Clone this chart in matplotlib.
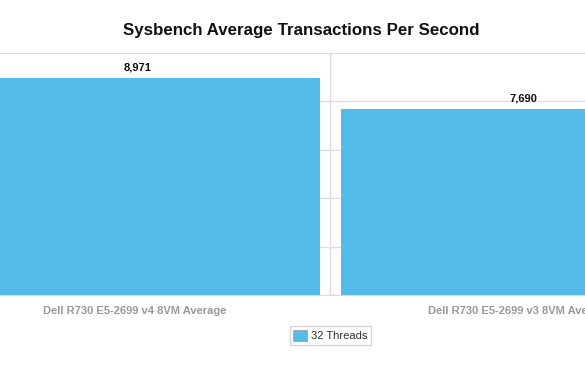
import matplotlib
matplotlib.use("Agg")
import matplotlib.pyplot as plt
import matplotlib.transforms as mtransforms
from matplotlib.patches import Patch

# data
categories = ["Dell R730 E5-2699 v4 8VM Average", "Dell R730 E5-2699 v3 8VM Average"]
tps = [8971, 7690]
series_name = "32 Threads"
yticks = [0, 2000, 4000, 6000, 8000, 10000]

bar_color = "#55bbea"
grid_color = "#dddddd"

plt.rcParams["font.family"] = ["Liberation Sans", "DejaVu Sans"]

fig = plt.figure(figsize=(5.85, 3.79), dpi=100)
ax = fig.add_axes([0.0, 0.2216, 1.0, 0.6385])

x = list(range(len(categories)))
bars = ax.bar(x, tps, width=0.945, color=bar_color, zorder=2)

ax.set_xlim(-0.358, 1.161)
ax.set_ylim(0, 10000)
ax.set_yticks(yticks)
ax.yaxis.grid(True, color=grid_color, linewidth=1, zorder=0)
ax.tick_params(axis="y", left=False, labelleft=False)
ax.tick_params(axis="x", bottom=False, pad=4.5)

# category separator
ax.axvline(0.5, color=grid_color, linewidth=1, zorder=1)

for s in ["top", "right", "left"]:
    ax.spines[s].set_visible(False)
ax.spines["bottom"].set_color(grid_color)
ax.spines["bottom"].set_zorder(3)

ax.set_xticks(x)
ax.set_xticklabels(categories, fontsize=8, fontweight="bold", color="#999999")
shift = mtransforms.ScaledTranslation(-3 / 100, 0, fig.dpi_scale_trans)
for lbl in ax.get_xticklabels():
    lbl.set_transform(lbl.get_transform() + shift)

for xi, v in zip(x, tps):
    ax.annotate(f"{v:,}", (xi, v), xytext=(0, 4), textcoords="offset points",
                ha="center", va="bottom", fontsize=8, fontweight="bold",
                color="#111111", clip_on=False)

fig.suptitle("Sysbench Average Transactions Per Second", x=0.515, y=0.94,
             fontsize=12.2, fontweight="bold", color="#111111")

leg = fig.legend(handles=[Patch(facecolor=bar_color, edgecolor="#aaaaaa", linewidth=0.8,
                                label=series_name)],
                 loc="center", bbox_to_anchor=(0.565, 0.115), fontsize=8,
                 frameon=True, fancybox=False, edgecolor="#cccccc",
                 handlelength=1.2, handleheight=1.2, handletextpad=0.4,
                 borderpad=0.35, labelcolor="#333333")
leg.get_frame().set_linewidth(1)

fig.savefig("out.png", dpi=100)
